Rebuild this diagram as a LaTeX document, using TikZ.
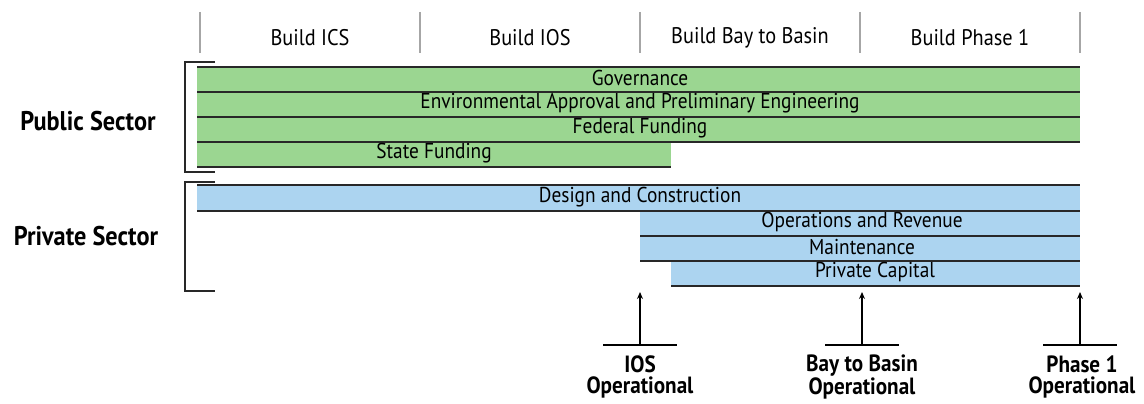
\documentclass[tikz,border=0pt]{standalone}
\usepackage{fontspec}
\setmainfont{PT Sans}[FakeStretch=0.9]
\usetikzlibrary{calc,arrows.meta}
\definecolor{pubgreen}{RGB}{155,214,145}
\definecolor{privblue}{RGB}{172,212,240}
\definecolor{rule}{RGB}{40,40,40}

\begin{document}
\begin{tikzpicture}[x=1pt,y=-1pt,
    barline/.style={draw=rule, line width=1.3pt},
    barlabel/.style={font=\fontsize{21.5}{21.5}\selectfont, inner sep=0pt},
    phaselabel/.style={font=\fontsize{22.6}{22.6}\selectfont, inner sep=0pt},
    sectorlabel/.style={font=\fontsize{27}{27}\selectfont\bfseries, inner sep=0pt},
    milestone/.style={font=\fontsize{23.5}{21.5}\selectfont\bfseries, align=center, inner sep=0pt},
    bracketline/.style={draw=rule, line width=1.3pt},
    uparrow/.style={draw=black, line width=1.3pt, -{Stealth[length=7pt,width=6pt]}}]
    \useasboundingbox (0,0) rectangle (1144,404);

    % phase header
    \foreach \x in {200,420,640,860,1080}
        \draw[gray!70, line width=1.2pt] (\x,12) -- (\x,53);
    \node[phaselabel] (ics) at (310,38) {Build ICS};
    \node[phaselabel] (ios) at (530,38) {Build IOS};
    \node[phaselabel] (b2b) at (750,38) {Build Bay to Basin};
    \node[phaselabel] (ph1) at (970,38) {Build Phase 1};

    % public sector bars
    \fill[pubgreen] (197,67) rectangle (1080,142);
    \fill[pubgreen] (197,142) rectangle (671,167);
    \draw[barline] (197,67) -- (1080,67);
    \draw[barline] (197,92) -- (1080,92);
    \draw[barline] (197,117) -- (1080,117);
    \draw[barline] (197,142) -- (1080,142);
    \draw[barline] (197,167) -- (671,167);
    \node[barlabel] (gov) at (640,78) {Governance};
    \node[barlabel] (env) at (640,103) {Environmental Approval and Preliminary Engineering};
    \node[barlabel] (fed) at (640,128) {Federal Funding};
    \node[barlabel] (state) at (434,153) {State Funding};

    % private sector bars
    \fill[privblue] (197,185) rectangle (1080,211);
    \fill[privblue] (640,211) rectangle (1080,261);
    \fill[privblue] (671,261) rectangle (1080,286);
    \draw[barline] (197,185) -- (1080,185);
    \draw[barline] (197,211) -- (1080,211);
    \draw[barline] (640,236) -- (1080,236);
    \draw[barline] (640,261) -- (1080,261);
    \draw[barline] (671,286) -- (1080,286);
    \node[barlabel] (design) at (640,197) {Design and Construction};
    \node[barlabel] (opsrev) at (862,222) {Operations and Revenue};
    \node[barlabel] (maint) at (862,247) {Maintenance};
    \node[barlabel] (capital) at (875,272) {Private Capital};

    % sector brackets
    \draw[bracketline] (215,62) -- (185,62) -- (185,172) -- (215,172);
    \draw[bracketline] (215,182) -- (185,182) -- (185,291) -- (215,291);
    \node[sectorlabel] (public) at (88,121) {Public Sector};
    \node[sectorlabel] (private) at (86,236) {Private Sector};

    % milestones
    \node[milestone] (iosop) at (640,377) {IOS\\Operational};
    \node[milestone] (b2bop) at (862,377) {Bay to Basin\\Operational};
    \node[milestone] (ph1op) at (1082,377) {Phase 1\\Operational};
    \coordinate (iosbase) at (640,345);
    \coordinate (b2bbase) at (862,345);
    \coordinate (ph1base) at (1080,345);
    \draw[line width=1.3pt] ($(iosbase)+(-37,0)$) -- ($(iosbase)+(37,0)$);
    \draw[line width=1.3pt] ($(b2bbase)+(-37,0)$) -- ($(b2bbase)+(37,0)$);
    \draw[line width=1.3pt] ($(ph1base)+(-37,0)$) -- ($(ph1base)+(37,0)$);
    \draw[uparrow] (iosbase) -- (640,292);
    \draw[uparrow] (b2bbase) -- (862,292);
    \draw[uparrow] (ph1base) -- (1080,292);
\end{tikzpicture}
\end{document}
